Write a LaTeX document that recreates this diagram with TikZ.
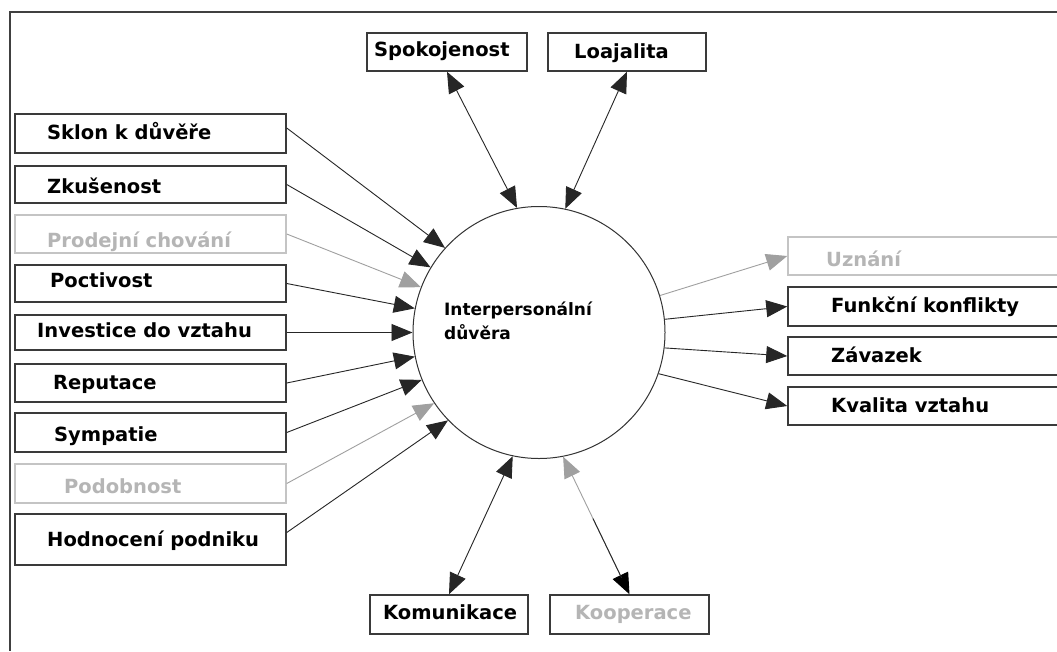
\documentclass[tikz,border=0pt]{standalone}
\usepackage{fontspec}
\setmainfont{DejaVu Sans}
\usetikzlibrary{arrows.meta}
\definecolor{bd}{HTML}{3A3A3A}
\definecolor{lgtext}{HTML}{B5B5B5}
\definecolor{lgbox}{HTML}{C4C4C4}
\definecolor{garrow}{HTML}{A0A0A0}
\begin{document}
\begin{tikzpicture}[x=1pt,y=-1pt,
  box/.style={draw=bd,line width=1.5pt,rectangle,inner sep=0pt},
  gbox/.style={draw=lgbox,line width=1.5pt,rectangle,inner sep=0pt},
  lbl/.style={anchor=base west,inner sep=0pt,font=\fontsize{19.5}{24}\selectfont\bfseries,text=black},
  glbl/.style={lbl,text=lgtext},
  ctext/.style={align=left,inner sep=0pt,font=\fontsize{17}{24}\selectfont\bfseries},
  conn/.style={draw=black!85,line width=0.9pt},
  gconn/.style={draw=garrow,line width=0.9pt},
  tip/.style={-{Triangle[length=21pt,width=17pt]}},
  gtip/.style={-{Triangle[length=21pt,width=17pt,color=garrow]}},
  bitip/.style={{Triangle[length=21pt,width=17pt]}-{Triangle[length=21pt,width=17pt]}},
  frame/.style={draw=black!75,line width=2pt}
]
\useasboundingbox (0,0) rectangle (1057,651);
\fill[white] (0,0) rectangle (1057,651);
\draw[frame] (1057,12) -- (10,12) -- (10,651);

% central circle
\node[draw=black!80,line width=1pt,circle,minimum size=252pt,inner sep=0pt] (c) at (539,332.5) {};
\node[ctext] (ct) at (518,321) {Interpersonální\\důvěra};

% left boxes
\node[box,minimum width=271pt,minimum height=39pt] (sklon) at (150.5,133.5) {};
\node[box,minimum width=271pt,minimum height=37pt] (zkus) at (150.5,184.5) {};
\node[gbox,minimum width=271pt,minimum height=38pt] (prod) at (150.5,234) {};
\node[box,minimum width=271pt,minimum height=37pt] (poct) at (150.5,283.5) {};
\node[box,minimum width=271pt,minimum height=35pt] (inv) at (150.5,332.5) {};
\node[box,minimum width=271pt,minimum height=38pt] (rep) at (150.5,383) {};
\node[box,minimum width=271pt,minimum height=39pt] (sym) at (150.5,432.5) {};
\node[gbox,minimum width=271pt,minimum height=39pt] (pod) at (150.5,483.5) {};
\node[box,minimum width=271pt,minimum height=51pt] (hod) at (150.5,539.5) {};

\node[lbl] (tsklon) at (47,139) {Sklon k důvěře};
\node[lbl] (tzkus) at (47,193) {Zkušenost};
\node[glbl] (tprod) at (47,247) {Prodejní chování};
\node[lbl] (tpoct) at (50,287) {Poctivost};
\node[lbl] (tinv) at (37,337) {Investice do vztahu};
\node[lbl] (trep) at (53,389) {Reputace};
\node[lbl] (tsym) at (54,441) {Sympatie};
\node[glbl] (tpod) at (64,493) {Podobnost};
\node[lbl] (thod) at (47,546) {Hodnocení podniku};

% top boxes
\node[box,minimum width=160pt,minimum height=38pt] (spok) at (447,52) {};
\node[box,minimum width=158pt,minimum height=38pt] (loaj) at (627,52) {};
\node[lbl] (tspok) at (374,56) {Spokojenost};
\node[lbl] (tloaj) at (574,58) {Loajalita};

% bottom boxes
\node[box,minimum width=158pt,minimum height=39pt] (kom) at (449,614.5) {};
\node[box,minimum width=159pt,minimum height=39pt] (koop) at (629.5,614.5) {};
\node[lbl] (tkom) at (383,619) {Komunikace};
\node[glbl] (tkoop) at (575,619) {Kooperace};

% right boxes
\node[gbox,minimum width=274pt,minimum height=38pt] (uzn) at (925,256) {};
\node[box,minimum width=274pt,minimum height=39pt] (funk) at (925,306.5) {};
\node[box,minimum width=274pt,minimum height=38pt] (zav) at (925,356) {};
\node[box,minimum width=274pt,minimum height=38pt] (kval) at (925,406) {};
\node[glbl] (tuzn) at (826,266) {Uznání};
\node[lbl] (tfunk) at (831,312) {Funkční konflikty};
\node[lbl] (tzav) at (831,362) {Závazek};
\node[lbl] (tkval) at (831,412) {Kvalita vztahu};

% left connectors
\draw[conn,tip] ([yshift=5.5pt]sklon.east) -- (c.138.6);
\draw[conn,tip] (zkus.east) -- (c.149.4);
\draw[gconn,gtip] (prod.east) -- (c.159.1);
\draw[conn,tip] (poct.east) -- (c.169);
\draw[conn,tip] (inv.east) -- (c.180);
\draw[conn,tip] (rep.east) -- (c.191);
\draw[conn,tip] (sym.east) -- (c.202.6);
\draw[gconn,gtip] (pod.east) -- (c.214.4);
\draw[conn,tip] ([yshift=7pt]hod.east) -- (c.224.8);

% top / bottom connectors
\draw[conn,bitip] (spok.south) -- (c.100.8);
\draw[conn,bitip] (loaj.south) -- (c.78.3);
\draw[conn,bitip] (kom.north) -- (c.258.3);
\draw[gconn,{Triangle[length=21pt,width=17pt,color=garrow]}-{Triangle[length=21pt,width=17pt,color=black]}] (c.281) -- coordinate[pos=0.45] (km) coordinate[pos=0.88] (kb) (koop.north);
\draw[conn] (km) -- (kb);

% right connectors
\draw[gconn,gtip] (c.17) -- (uzn.west);
\draw[conn,tip] (c.6.6) -- (funk.west);
\draw[conn,tip] (c.353.4) -- (zav.west);
\draw[conn,tip] (c.341.9) -- (kval.west);
\end{tikzpicture}
\end{document}
